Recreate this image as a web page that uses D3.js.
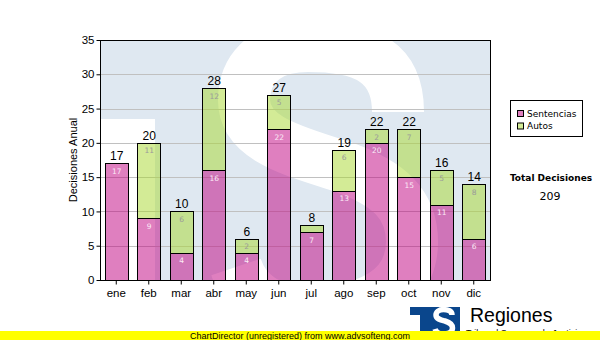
<!DOCTYPE html>
<html>
<head>
<meta charset="utf-8">
<script src="https://cdn.jsdelivr.net/npm/d3@7"></script>
<style>
  body { margin: 0; background: #fff; }
  svg { display: block; }
</style>
</head>
<body>
<script>
// Monthly decisions, stacked by type
const months = ["ene", "feb", "mar", "abr", "may", "jun", "jul", "ago", "sep", "oct", "nov", "dic"];
const sentencias = [17, 9, 4, 16, 4, 22, 7, 13, 20, 15, 11, 6];
const autos = [0, 11, 6, 12, 2, 5, 1, 6, 2, 7, 5, 8];
const seriesNames = ["Sentencias", "Autos"];
const yTicks = [0, 5, 10, 15, 20, 25, 30, 35];
const yTitle = "Decisiones Anual";
const totalTitle = "Total Decisiones";
const footerText = "ChartDirector (unregistered) from www.advsofteng.com";
const brandName = "Regiones";
const brandSub = "Tribunal Supremo de Justicia";

const W = 600, H = 340;
const plot = { left: 100, top: 40, right: 490, bottom: 280 };
const colors = { Sentencias: "#c00080", Autos: "#a8d72e" };
const labelColors = { Sentencias: "#fbeaf6", Autos: "#9a9a9a" };
const axisFont = "Arial, 'Liberation Sans', sans-serif";
const uiFont = "Verdana, 'DejaVu Sans', sans-serif";

const svg = d3.select("body").append("svg")
  .attr("width", W).attr("height", H)
  .style("background", "#fff");

const x = d3.scaleBand().domain(months)
  .range([plot.left, plot.right])
  .paddingInner(0.28).paddingOuter(0.14);
const y = d3.scaleLinear().domain([0, 35]).range([plot.bottom, plot.top]);

const rows = months.map((m, i) => ({ month: m, Sentencias: sentencias[i], Autos: autos[i] }));
const stacked = d3.stack().keys(seriesNames)(rows);
const totals = rows.map(r => r.Sentencias + r.Autos);

// plot background with the faint emblem
svg.append("clipPath").attr("id", "plotClip")
  .append("rect")
  .attr("x", plot.left).attr("y", plot.top)
  .attr("width", plot.right - plot.left).attr("height", plot.bottom - plot.top);

const bg = svg.append("g").attr("clip-path", "url(#plotClip)");
bg.append("rect")
  .attr("x", plot.left).attr("y", plot.top)
  .attr("width", plot.right - plot.left).attr("height", plot.bottom - plot.top)
  .attr("fill", "#dfe8f1");
bg.append("rect")
  .attr("x", plot.left).attr("y", 119)
  .attr("width", 55).attr("height", 170)
  .attr("fill", "#fff");
bg.append("path")
  .attr("d", "M 398,112 C 398,62 365,46 308,46 C 262,46 244,72 244,100 C 244,140 298,152 340,166 C 390,183 412,205 412,242 C 412,290 368,312 312,312 C 268,312 245,294 236,267")
  .attr("fill", "none").attr("stroke", "#fff").attr("stroke-width", 52);

// horizontal grid
svg.append("g")
  .selectAll("line")
  .data(yTicks.filter(t => t > 0 && t < 35))
  .join("line")
  .attr("x1", plot.left).attr("x2", plot.right)
  .attr("y1", d => Math.round(y(d)) + 0.5).attr("y2", d => Math.round(y(d)) + 0.5)
  .attr("stroke", "#c0c0c0").attr("stroke-width", 1);

// stacked bars
const px = v => Math.round(v) + 0.5;
const layers = svg.append("g")
  .selectAll("g")
  .data(stacked)
  .join("g");

layers.selectAll("rect")
  .data(s => s.filter(d => d[1] - d[0] > 0).map(d => Object.assign(d, { key: s.key })))
  .join("rect")
  .attr("x", d => px(x(d.data.month)))
  .attr("y", d => px(y(d[1])))
  .attr("width", Math.round(x.bandwidth()))
  .attr("height", d => Math.round(y(d[0])) - Math.round(y(d[1])))
  .attr("fill", d => colors[d.key])
  .attr("fill-opacity", 0.5)
  .attr("stroke", "#000").attr("stroke-width", 1);

// values inside each segment
layers.selectAll("text")
  .data(s => s.filter(d => d[1] - d[0] >= 2).map(d => Object.assign(d, { key: s.key })))
  .join("text")
  .attr("x", d => x(d.data.month) + x.bandwidth() / 2 + 0.5)
  .attr("y", d => y(d[1]) + 10.5)
  .attr("text-anchor", "middle")
  .attr("font-family", uiFont).attr("font-size", 7.5)
  .attr("fill", d => labelColors[d.key])
  .text(d => d[1] - d[0]);

// totals above the bars
svg.append("g")
  .selectAll("text")
  .data(rows)
  .join("text")
  .attr("x", (d, i) => x(d.month) + x.bandwidth() / 2 + 0.5)
  .attr("y", (d, i) => y(totals[i]) - 3)
  .attr("text-anchor", "middle")
  .attr("font-family", axisFont).attr("font-size", 12)
  .attr("fill", "#000")
  .text((d, i) => totals[i]);

// axes
const yAxis = svg.append("g")
  .attr("transform", `translate(${plot.left + 0.5},0)`)
  .call(d3.axisLeft(y).tickValues(yTicks).tickSize(4).tickPadding(2).tickFormat(d3.format("d")));
yAxis.select(".domain").remove();
yAxis.selectAll(".tick line").attr("stroke", "#000");
yAxis.selectAll("text").attr("font-family", axisFont).attr("font-size", 11.5).attr("fill", "#000");

const xAxis = svg.append("g")
  .attr("transform", `translate(0,${plot.bottom + 0.5})`)
  .call(d3.axisBottom(x).tickSize(4).tickPadding(4));
xAxis.select(".domain").remove();
xAxis.selectAll(".tick line").attr("stroke", "#000");
xAxis.selectAll("text").attr("font-family", axisFont).attr("font-size", 11.5).attr("fill", "#000");

// plot frame
svg.append("rect")
  .attr("x", plot.left + 0.5).attr("y", plot.top + 0.5)
  .attr("width", plot.right - plot.left).attr("height", plot.bottom - plot.top)
  .attr("fill", "none").attr("stroke", "#000").attr("stroke-width", 1);

// y title
svg.append("text")
  .attr("transform", "translate(77,160) rotate(-90)")
  .attr("text-anchor", "middle")
  .attr("font-family", axisFont).attr("font-size", 11)
  .attr("fill", "#000")
  .text(yTitle);

// legend
const legend = svg.append("g");
legend.append("rect")
  .attr("x", 510.5).attr("y", 100.5).attr("width", 72).attr("height", 36)
  .attr("fill", "#fff").attr("stroke", "#000");
const items = legend.selectAll("g.item").data(seriesNames).join("g").attr("class", "item")
  .attr("transform", (d, i) => `translate(517,${110 + i * 12.5})`);
items.append("rect")
  .attr("x", 0.5).attr("y", 0.5).attr("width", 6).attr("height", 6)
  .attr("fill", d => colors[d]).attr("fill-opacity", 0.5)
  .attr("stroke", "#000");
items.append("text")
  .attr("x", 10).attr("y", 6.8)
  .attr("font-family", uiFont).attr("font-size", 9)
  .attr("fill", "#000")
  .text(d => d);

// grand total
svg.append("text")
  .attr("x", 551).attr("y", 180.5)
  .attr("text-anchor", "middle")
  .attr("font-family", uiFont).attr("font-size", 9).attr("font-weight", "bold")
  .attr("fill", "#000")
  .text(totalTitle);
svg.append("text")
  .attr("x", 550).attr("y", 200)
  .attr("text-anchor", "middle")
  .attr("font-family", uiFont).attr("font-size", 11)
  .attr("fill", "#000")
  .text(d3.sum(totals));

// brand mark: blue block with a white S
const brand = svg.append("g");
brand.append("rect").attr("x", 410).attr("y", 307).attr("width", 50).attr("height", 30).attr("fill", "#0a468c");
brand.append("rect").attr("x", 410).attr("y", 315).attr("width", 10).attr("height", 22).attr("fill", "#fff");
brand.append("path")
  .attr("d", "M 452,315 C 452,311 448,309.5 443.5,309.5 C 439,309.5 436,312 436,315 C 436,319 441,320 445,321 C 450,322.5 452.5,324.5 452.5,328 C 452.5,332 448,334 443,334 C 439,334 436,332 435,329")
  .attr("fill", "none").attr("stroke", "#fff").attr("stroke-width", 5.5);
brand.append("text")
  .attr("x", 470).attr("y", 322)
  .attr("font-family", axisFont).attr("font-size", 19.5)
  .attr("fill", "#000")
  .text(brandName);
brand.append("text")
  .attr("x", 466).attr("y", 336)
  .attr("font-family", axisFont).attr("font-size", 9)
  .attr("fill", "#000")
  .text(brandSub);

// footer strip
svg.append("rect").attr("x", 0).attr("y", 331).attr("width", W).attr("height", 9).attr("fill", "#ffff00");
svg.append("text")
  .attr("x", 300).attr("y", 338.5)
  .attr("text-anchor", "middle")
  .attr("font-family", axisFont).attr("font-size", 9.5)
  .attr("textLength", 220).attr("lengthAdjust", "spacingAndGlyphs")
  .attr("fill", "#000")
  .text(footerText);
</script>
</body>
</html>
